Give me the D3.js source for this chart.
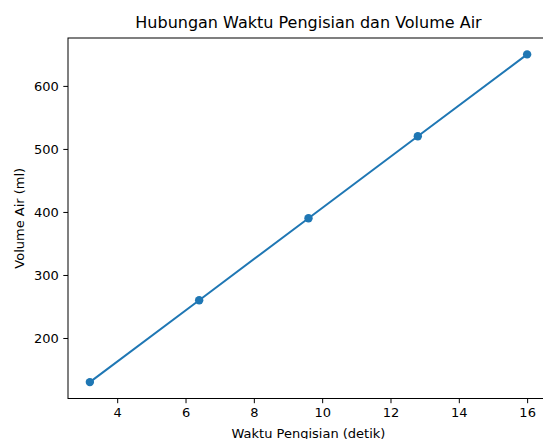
<!DOCTYPE html>
<html>
<head>
<meta charset="utf-8">
<script src="https://cdn.jsdelivr.net/npm/d3@7"></script>
<style>
  body { margin: 0; background: #fff; }
  text { font-family: "DejaVu Sans", sans-serif; fill: #000; }
</style>
</head>
<body>
<script>
// chart data
const waktu = [3.2, 6.4, 9.6, 12.8, 16];
const volume = [130, 260, 390, 520, 650];
const xTicks = [4, 6, 8, 10, 12, 14, 16];
const yTicks = [200, 300, 400, 500, 600];

const TITLE_TEXT = "Hubungan Waktu Pengisian dan Volume Air";
const X_LABEL = "Waktu Pengisian (detik)";
const Y_LABEL = "Volume Air (ml)";

const W = 543, H = 439;
const box = { left: 68, right: 549, top: 38, bottom: 398.5 };
const color = "#1f77b4";

const svg = d3.select("body").append("svg")
  .attr("width", W)
  .attr("height", H);

// matplotlib-like 5% margins
const xPad = (d3.max(waktu) - d3.min(waktu)) * 0.05;
const yPad = (d3.max(volume) - d3.min(volume)) * 0.05;

const x = d3.scaleLinear()
  .domain([d3.min(waktu) - xPad, d3.max(waktu) + xPad])
  .range([box.left, box.right]);
const y = d3.scaleLinear()
  .domain([d3.min(volume) - yPad, d3.max(volume) + yPad])
  .range([box.bottom, box.top]);

const xAxis = svg.append("g")
  .attr("transform", `translate(0,${box.bottom})`)
  .call(d3.axisBottom(x).tickValues(xTicks).tickSize(4.7).tickPadding(4.5).tickFormat(d3.format("d")));
const yAxis = svg.append("g")
  .attr("transform", `translate(${box.left},0)`)
  .call(d3.axisLeft(y).tickValues(yTicks).tickSize(4.7).tickPadding(4.5).tickFormat(d3.format("d")));

[xAxis, yAxis].forEach(g => {
  g.select(".domain").remove();
  g.selectAll("line").attr("stroke", "#000").attr("stroke-width", 1);
  g.selectAll("text").style("font-size", "13px").style("font-family", "DejaVu Sans, sans-serif").attr("fill", "#000");
});

// spines
svg.append("rect")
  .attr("x", box.left)
  .attr("y", box.top)
  .attr("width", box.right - box.left)
  .attr("height", box.bottom - box.top)
  .attr("fill", "none")
  .attr("stroke", "#000")
  .attr("stroke-width", 1);

const pts = waktu.map((t, i) => [t, volume[i]]);

svg.append("path")
  .datum(pts)
  .attr("fill", "none")
  .attr("stroke", color)
  .attr("stroke-width", 2)
  .attr("d", d3.line().x(d => x(d[0])).y(d => y(d[1])));

svg.selectAll("circle.pt")
  .data(pts)
  .enter()
  .append("circle")
  .attr("class", "pt")
  .attr("cx", d => x(d[0]))
  .attr("cy", d => y(d[1]))
  .attr("r", 4.2)
  .attr("fill", color);

svg.append("text")
  .attr("x", (box.left + box.right) / 2)
  .attr("y", 28)
  .attr("text-anchor", "middle")
  .style("font-size", "16px")
  .text(TITLE_TEXT);

svg.append("text")
  .attr("x", (box.left + box.right) / 2)
  .attr("y", 438)
  .attr("text-anchor", "middle")
  .style("font-size", "13px")
  .text(X_LABEL);

svg.append("text")
  .attr("transform", `translate(24,${(box.top + box.bottom) / 2}) rotate(-90)`)
  .attr("text-anchor", "middle")
  .style("font-size", "13px")
  .text(Y_LABEL);
</script>
</body>
</html>
